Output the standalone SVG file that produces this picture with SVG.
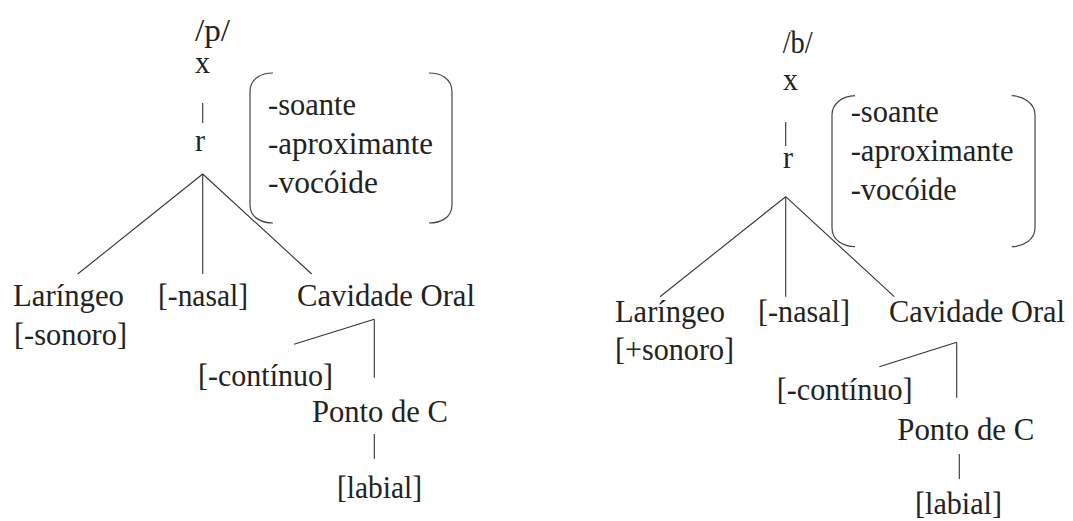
<svg xmlns="http://www.w3.org/2000/svg" width="1073" height="521" viewBox="0 0 1073 521">
<style>
.t{font-family:'Times New Roman','Liberation Serif',Times,'Nimbus Roman','Noto Serif','DejaVu Serif',serif;font-size:32px;fill:#222;}
.ln{stroke:#333;stroke-width:1.1;fill:none;}
.br{stroke:#444;stroke-width:1.2;fill:none;}
</style>
<rect width="1073" height="521" fill="#fff"/>
<g id="connectors">
<line class="ln" x1="202.7" y1="103" x2="202.7" y2="123"/>
<line class="ln" x1="202.7" y1="174" x2="77.7" y2="274"/>
<line class="ln" x1="202.7" y1="174" x2="202.7" y2="274"/>
<line class="ln" x1="202.7" y1="174" x2="311.7" y2="274"/>
<line class="ln" x1="374.3" y1="319.3" x2="294" y2="344.3"/>
<line class="ln" x1="374.3" y1="319.3" x2="374.3" y2="377.7"/>
<line class="ln" x1="374.3" y1="434" x2="374.3" y2="459"/>
<line class="ln" x1="785.7" y1="122" x2="785.7" y2="146"/>
<line class="ln" x1="785.7" y1="196.7" x2="660" y2="296.7"/>
<line class="ln" x1="785.7" y1="196.7" x2="785.7" y2="296.7"/>
<line class="ln" x1="785.7" y1="196.7" x2="894.3" y2="296.7"/>
<line class="ln" x1="956.7" y1="342.3" x2="879.3" y2="366.7"/>
<line class="ln" x1="956.7" y1="342.3" x2="956.7" y2="397.7"/>
<line class="ln" x1="959.3" y1="454" x2="959.3" y2="479"/>
</g>
<g id="tree-p" class="t">
<g id="p-phoneme"><text x="195" y="41" textLength="35" lengthAdjust="spacingAndGlyphs">/p/</text></g>
<g id="p-x"><text x="195" y="73" textLength="15" lengthAdjust="spacingAndGlyphs">x</text></g>
<g id="p-r"><text x="195" y="151" textLength="10" lengthAdjust="spacingAndGlyphs">r</text></g>
<g id="p-features">
<path class="br" d="M273 73 C262 73 250 78 250 92 L250 205 C250 218 262 223 273 223"/>
<path class="br" d="M429 73 C440 73 452 78 452 92 L452 205 C452 218 440 223 429 223"/>
<text x="268" y="115" textLength="88" lengthAdjust="spacingAndGlyphs">-soante</text>
<text x="268" y="154" textLength="165" lengthAdjust="spacingAndGlyphs">-aproximante</text>
<text x="268" y="193" textLength="110" lengthAdjust="spacingAndGlyphs">-vocóide</text>
</g>
<g id="p-laringeo">
<text x="13" y="306" textLength="111" lengthAdjust="spacingAndGlyphs">Laríngeo</text>
<text x="14" y="345" textLength="113" lengthAdjust="spacingAndGlyphs">[-sonoro]</text>
</g>
<g id="p-nasal"><text x="158" y="306" textLength="90" lengthAdjust="spacingAndGlyphs">[-nasal]</text></g>
<g id="p-cavidade"><text x="297" y="306" textLength="178" lengthAdjust="spacingAndGlyphs">Cavidade Oral</text></g>
<g id="p-continuo"><text x="198" y="386" textLength="135" lengthAdjust="spacingAndGlyphs">[-contínuo]</text></g>
<g id="p-ponto"><text x="312" y="422" textLength="136" lengthAdjust="spacingAndGlyphs">Ponto de C</text></g>
<g id="p-labial"><text x="337" y="498" textLength="85" lengthAdjust="spacingAndGlyphs">[labial]</text></g>
</g>
<g id="tree-b" class="t">
<g id="b-phoneme"><text x="782.7" y="52.7" textLength="30" lengthAdjust="spacingAndGlyphs">/b/</text></g>
<g id="b-x"><text x="783" y="90" textLength="15" lengthAdjust="spacingAndGlyphs">x</text></g>
<g id="b-r"><text x="783" y="168" textLength="10" lengthAdjust="spacingAndGlyphs">r</text></g>
<g id="b-features">
<path class="br" d="M855 95.7 C843 96 832 103 832 115 L832 228 C832 240 843 246.7 855 246.7"/>
<path class="br" d="M1011.7 95.7 C1023 96 1035 103 1035 115 L1035 228 C1035 240 1023 246.7 1011.7 246.7"/>
<text x="850.7" y="121.7" textLength="88" lengthAdjust="spacingAndGlyphs">-soante</text>
<text x="850.7" y="161" textLength="163" lengthAdjust="spacingAndGlyphs">-aproximante</text>
<text x="850.7" y="200" textLength="106" lengthAdjust="spacingAndGlyphs">-vocóide</text>
</g>
<g id="b-laringeo">
<text x="615" y="321.7" textLength="110" lengthAdjust="spacingAndGlyphs">Laríngeo</text>
<text x="615" y="360" textLength="119" lengthAdjust="spacingAndGlyphs">[+sonoro]</text>
</g>
<g id="b-nasal"><text x="758" y="321.7" textLength="92" lengthAdjust="spacingAndGlyphs">[-nasal]</text></g>
<g id="b-cavidade"><text x="889" y="321.7" textLength="176" lengthAdjust="spacingAndGlyphs">Cavidade Oral</text></g>
<g id="b-continuo"><text x="776.7" y="400" textLength="136" lengthAdjust="spacingAndGlyphs">[-contínuo]</text></g>
<g id="b-ponto"><text x="897.3" y="440" textLength="137" lengthAdjust="spacingAndGlyphs">Ponto de C</text></g>
<g id="b-labial"><text x="915" y="514" textLength="87" lengthAdjust="spacingAndGlyphs">[labial]</text></g>
</g>
</svg>
